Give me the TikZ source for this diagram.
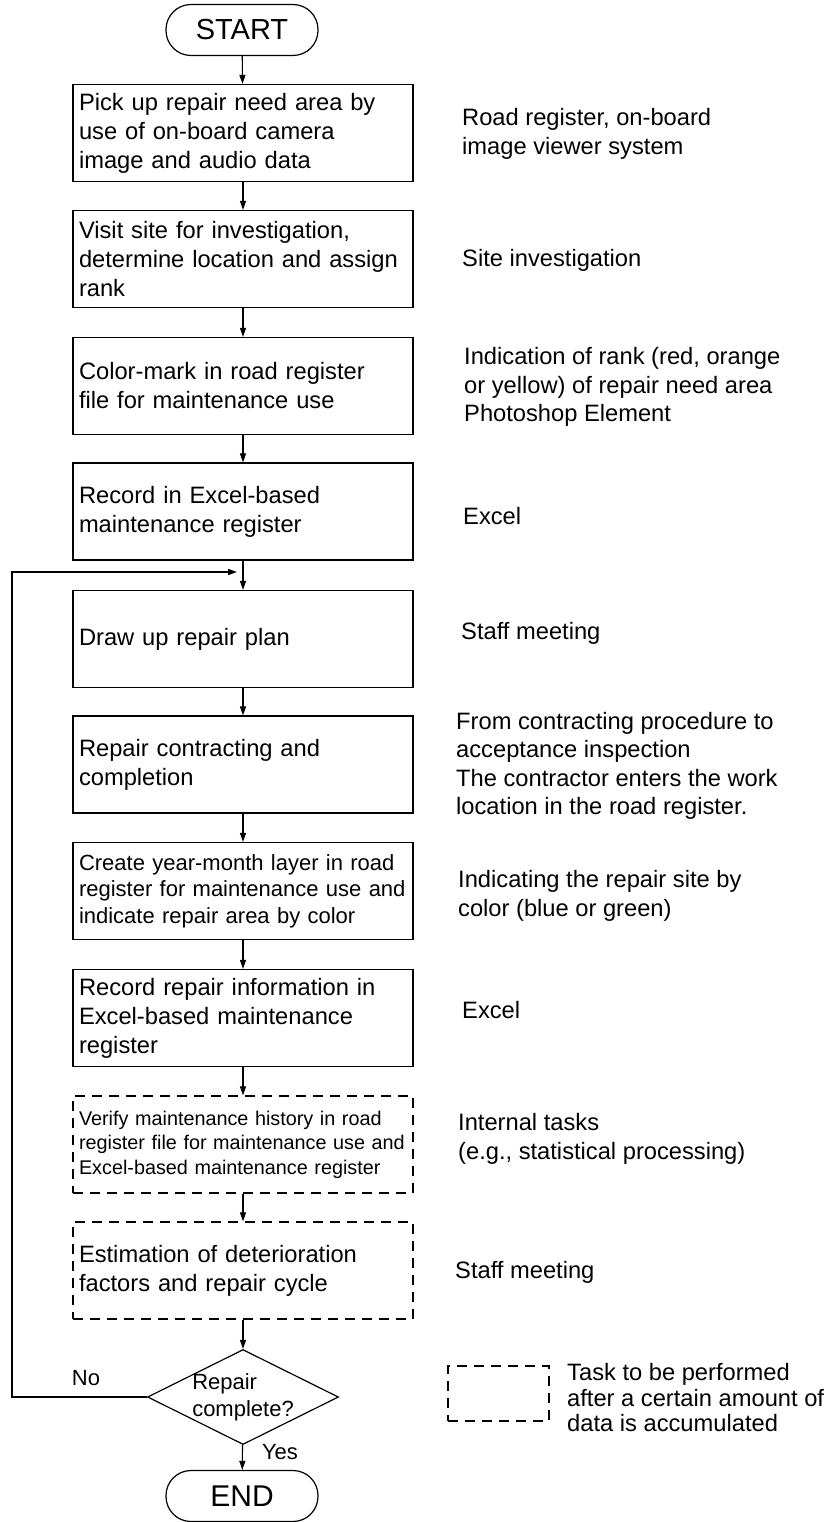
\documentclass[tikz,border=0pt]{standalone}
\usepackage{fontspec}
\setmainfont{Liberation Sans}
\usetikzlibrary{arrows.meta,shapes.geometric}
\tikzset{
    stepbox/.style={draw, line width=1.2pt, minimum width=340pt, minimum height=97pt,
        text width=328pt, inner xsep=6pt, align=left, font=\fontsize{23.7}{29}\selectfont},
    laterbox/.style={stepbox, dash pattern=on 10pt off 7pt},
    term/.style={draw, line width=1.2pt, rounded corners=25pt, minimum width=152pt,
        minimum height=51pt, font=\fontsize{29}{34}\selectfont},
    decision/.style={draw, diamond, line width=1.2pt, minimum width=191pt,
        minimum height=95pt, inner sep=0pt},
    note/.style={anchor=west, align=left, inner sep=0pt, font=\fontsize{23.7}{28.5}\selectfont},
    flow/.style={line width=1.1pt, -{Triangle[length=9pt,width=6pt]}},
}
\begin{document}
\begin{tikzpicture}[x=1pt, y=-1pt]
                \useasboundingbox (0,0) rectangle (834,1522);

                \node[term] (start) at (242,30) {START};
                \node[stepbox] (pick) at (243,133)
                    {Pick up repair need area by\\use of on-board camera\\image and audio data};
                \node[stepbox] (visit) at (243,259)
                    {Visit site for investigation,\\determine location and assign\\rank};
                \node[stepbox] (mark) at (243,386)
                    {Color-mark in road register\\file for maintenance use};
                \node[stepbox] (rec) at (243,511.5)
                    {Record in Excel-based\\maintenance register};
                \node[stepbox] (plan) at (243,639)
                    {Draw up repair plan};
                \node[stepbox] (contract) at (243,764.5)
                    {Repair contracting and\\completion};
                \node[stepbox, font=\fontsize{22}{26.5}\selectfont] (layer) at (243,891)
                    {Create year-month layer in road\\register for maintenance use and\\indicate repair area by color};
                \node[stepbox] (recrep) at (243,1018)
                    {Record repair information in\\Excel-based maintenance\\register};
                \node[laterbox, font=\fontsize{19.8}{24.5}\selectfont] (verify) at (243,1144.5)
                    {Verify maintenance history in road\\register file for maintenance use and\\Excel-based maintenance register};
                \node[laterbox] (estim) at (243,1270.5)
                    {Estimation of deterioration\\factors and repair cycle};
                \node[decision] (check) at (243,1397) {};
                \node[align=left, inner sep=0pt, font=\fontsize{22}{27}\selectfont] (checktxt)
                    at (check) {Repair\\complete?};
                \node[term, font=\fontsize{30}{35}\selectfont] (end) at (242,1496) {END};

                \draw[flow] (start) -- (pick);
                \draw[flow] (pick) -- (visit);
                \draw[flow] (visit) -- (mark);
                \draw[flow] (mark) -- (rec);
                \draw[flow] (rec) -- (plan);
                \draw[flow] (plan) -- (contract);
                \draw[flow] (contract) -- (layer);
                \draw[flow] (layer) -- (recrep);
                \draw[flow] (recrep) -- (verify);
                \draw[flow] (verify) -- (estim);
                \draw[flow] (estim) -- (check);
                \draw[flow] (check) -- (end);

                \coordinate (loopx) at (12,572);
                \coordinate (loopin) at (237,572);
                \draw[flow, line width=1.6pt] (check.west) -| (loopx) -- (loopin);
                \node[font=\fontsize{22}{26}\selectfont] (no) at (86,1378) {No};
                \node[font=\fontsize{22}{26}\selectfont] (yes) at (280,1452) {Yes};

                \node[note] (npick) at (462,134)
                    {Road register, on-board\\image viewer system};
                \node[note] (nvisit) at (462,260) {Site investigation};
                \node[note] (nmark) at (464,387)
                    {Indication of rank (red, orange\\or yellow) of repair need area\\Photoshop Element};
                \node[note] (nrec) at (463,516) {Excel};
                \node[note] (nplan) at (461,633) {Staff meeting};
                \node[note] (ncontract) at (456,766)
                    {From contracting procedure to\\acceptance inspection\\The contractor enters the work\\location in the road register.};
                \node[note] (nlayer) at (458,896)
                    {Indicating the repair site by\\color (blue or green)};
                \node[note] (nrecrep) at (462,1010) {Excel};
                \node[note] (nverify) at (458,1139)
                    {Internal tasks\\(e.g., statistical processing)};
                \node[note] (nestim) at (455,1272) {Staff meeting};

                \node[draw, line width=1.1pt, dash pattern=on 10pt off 7pt, minimum width=101pt,
                    minimum height=55pt] (legbox) at (498.5,1393.5) {};
                \node[note, font=\fontsize{23.7}{25.5}\selectfont] (legtxt) at (567,1398)
                    {Task to be performed\\after a certain amount of\\data is accumulated};
\end{tikzpicture}
\end{document}
